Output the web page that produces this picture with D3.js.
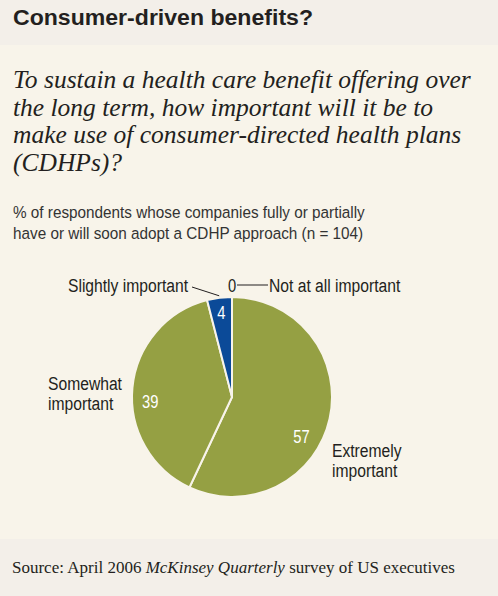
<!DOCTYPE html>
<html>
<head>
<meta charset="utf-8">
<script src="https://cdn.jsdelivr.net/npm/d3@7"></script>
<style>
  html, body { margin: 0; padding: 0; background: #f8f4ea; }
  svg { display: block; }
</style>
</head>
<body>
<svg id="chart" width="498" height="596"></svg>
<script>
// categories, clockwise from 12 o'clock
var categories = ['Extremely important', 'Somewhat important', 'Slightly important', 'Not at all important']
var values = [57, 39, 4, 0]
var sliceColors = ['#95a043', '#95a043', '#0b4a98', '#0b4a98']

var title = 'Consumer-driven benefits?'
var questionLines = [
	'To sustain a health care benefit offering over',
	'the long term, how important will it be to',
	'make use of consumer-directed health plans',
	'(CDHPs)?'
]
var subtitleLines = [
	'% of respondents whose companies fully or partially',
	'have or will soon adopt a CDHP approach (n = 104)'
]

var W = 498, H = 596
var svg = d3.select('#chart')

var sans = "'Liberation Sans', Arial, sans-serif"
var serif = "'Liberation Serif', 'DejaVu Serif', serif"
var ink = '#231f20'

// no condensed face installed, so squeeze a regular one horizontally
function condensedText(parent, x, y, size, squeeze) {
	return parent.append('text')
		.attr('transform', `translate(${x},${y}) scale(${squeeze},1)`)
		.attr('font-family', sans)
		.attr('font-size', size)
		.attr('fill', ink)
}

/* ===== BANDS ===== */
svg.append('rect').attr('x', 0).attr('y', 0).attr('width', W).attr('height', H).attr('fill', '#f8f4ea')
svg.append('rect').attr('x', 0).attr('y', 0).attr('width', W).attr('height', 45).attr('fill', '#f3efe9')
svg.append('rect').attr('x', 0).attr('y', 539).attr('width', W).attr('height', H - 539).attr('fill', '#f3efe9')

/* ===== TITLES ===== */
svg.append('text')
	.attr('x', 13).attr('y', 25)
	.attr('font-family', sans)
	.attr('font-weight', 'bold')
	.attr('font-size', 22)
	.attr('textLength', 300)
	.attr('lengthAdjust', 'spacingAndGlyphs')
	.attr('fill', ink)
	.text(title)

svg.append('g').selectAll('text')
	.data(questionLines)
	.join('text')
	.attr('x', 13)
	.attr('y', (d, i) => 88 + i * 27.5)
	.attr('font-family', serif)
	.attr('font-style', 'italic')
	.attr('font-size', 25.5)
	.attr('fill', ink)
	.text(d => d)

subtitleLines.forEach((line, i) => {
	condensedText(svg, 13, 218 + i * 21, 17, 0.9)
		.attr('fill', '#333')
		.text(line)
})

/* ===== PIE ===== */
var cx = 232, cy = 397, radius = 100

var pie = d3.pie().sort(null).value(d => d)
var arcs = pie(values)
var arc = d3.arc().innerRadius(0).outerRadius(radius)

var g = svg.append('g').attr('transform', `translate(${cx},${cy})`)

g.selectAll('path')
	.data(arcs)
	.join('path')
	.attr('d', arc)
	.attr('fill', (d, i) => sliceColors[i])
	.attr('stroke', '#f8f4ea')
	.attr('stroke-width', 2)
	.attr('stroke-linejoin', 'round')

// value labels inside slices: [radius, angle nudge in degrees]
var valueLabelPos = [[80, 17], [82, -9], [85, 0]]

arcs.filter(d => d.value > 0).forEach((d, i) => {
	var a = (d.startAngle + d.endAngle) / 2 + valueLabelPos[i][1] * Math.PI / 180
	var r = valueLabelPos[i][0]
	condensedText(g, Math.sin(a) * r, -Math.cos(a) * r, 18, 0.82)
		.attr('dy', '0.35em')
		.attr('text-anchor', 'middle')
		.attr('fill', '#fff')
		.text(d.value)
})

/* ===== CATEGORY LABELS ===== */
function label(x, y, lines, anchor) {
	var t = condensedText(svg, x, y, 18, 0.87)
		.attr('text-anchor', anchor || 'start')
	lines.forEach((line, i) => {
		t.append('tspan').attr('x', 0).attr('dy', i ? 20 : 0).text(line)
	})
	return t
}

label(48, 390, ['Somewhat', 'important'])
label(332, 457, ['Extremely', 'important'])
label(188, 292, ['Slightly important'], 'end')
label(269, 292, ['Not at all important'])

// "0" for Not at all important, at the top of the pie where its zero slice sits
var zeroArc = arcs[3]
condensedText(svg, cx + Math.sin(zeroArc.startAngle) * radius, 292, 18, 0.82)
	.attr('text-anchor', 'middle')
	.text(zeroArc.value)

// leader lines
svg.append('line')
	.attr('x1', 237).attr('y1', 285).attr('x2', 268).attr('y2', 285)
	.attr('stroke', ink).attr('stroke-width', 1)

var slightMid = (arcs[2].startAngle + arcs[2].endAngle) / 2
svg.append('line')
	.attr('x1', 192).attr('y1', 287)
	.attr('x2', cx + Math.sin(slightMid) * (radius + 2))
	.attr('y2', cy - Math.cos(slightMid) * (radius + 2))
	.attr('stroke', ink).attr('stroke-width', 1)

/* ===== SOURCE ===== */
var src = svg.append('text')
	.attr('x', 12).attr('y', 573)
	.attr('font-family', serif)
	.attr('font-size', 17)
	.attr('fill', ink)
src.append('tspan').text('Source: April 2006 ')
src.append('tspan').attr('font-style', 'italic').text('McKinsey Quarterly')
src.append('tspan').text(' survey of US executives')
</script>
</body>
</html>
